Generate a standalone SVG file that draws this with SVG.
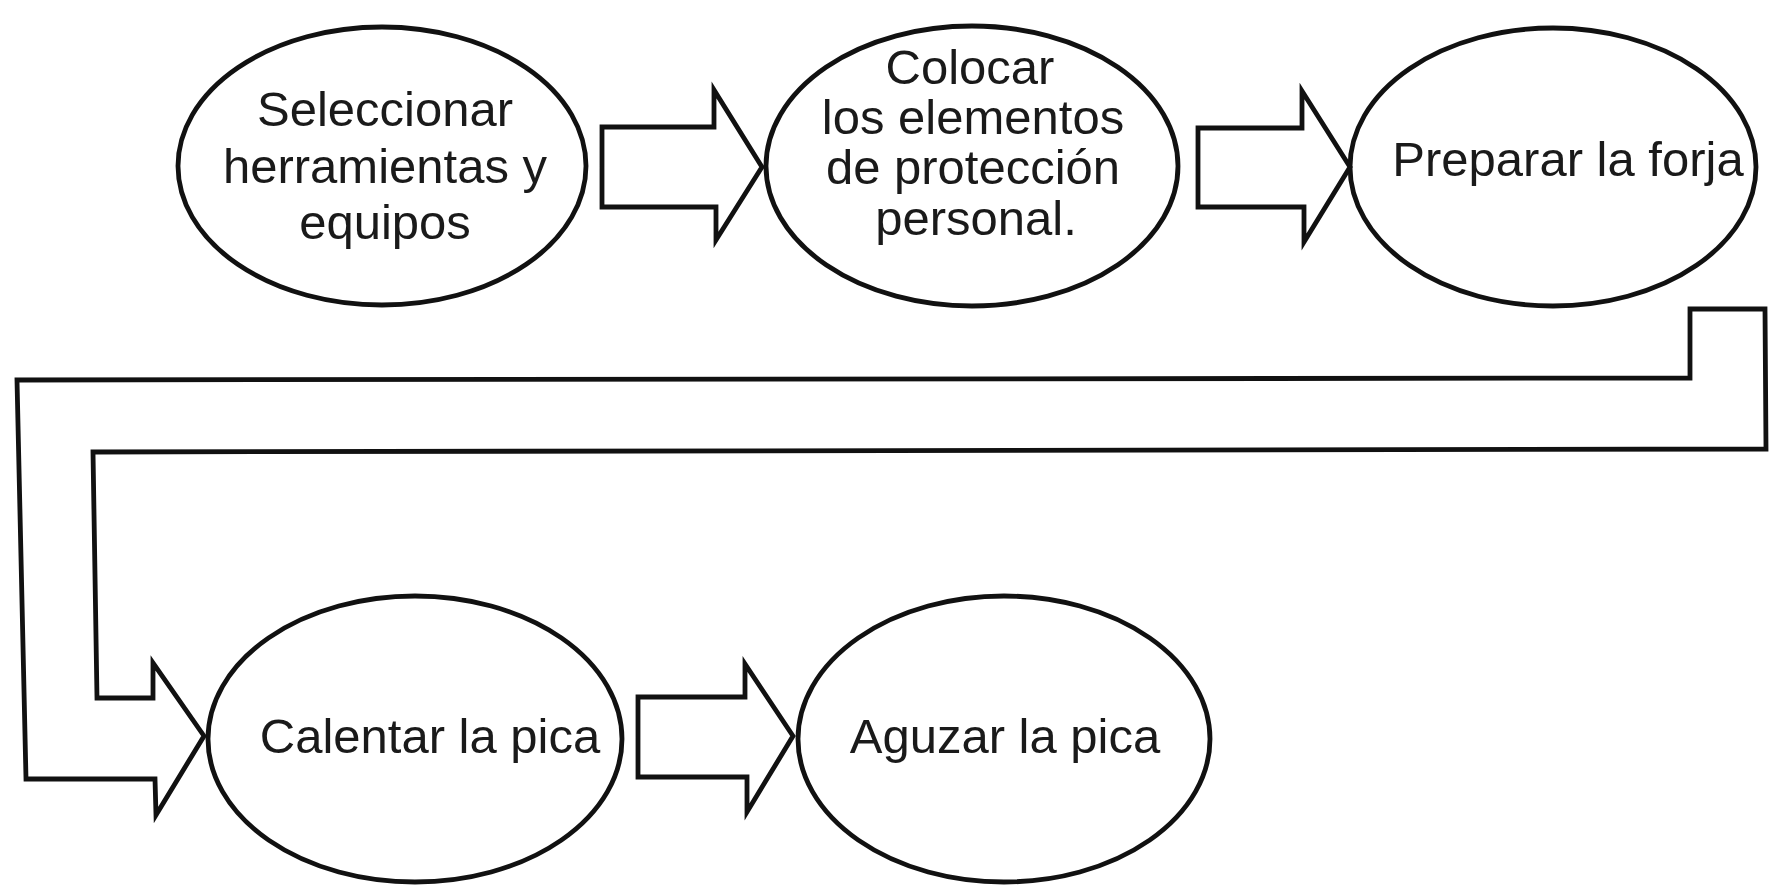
<svg xmlns="http://www.w3.org/2000/svg" width="1784" height="885" viewBox="0 0 1784 885">
<style>
.node ellipse{fill:none;stroke:#111;stroke-width:4.8}
.node text{font-family:"Liberation Sans",Arial,sans-serif;font-size:49px;fill:#1a1a1a;text-anchor:middle}
.conn path{fill:none;stroke:#111;stroke-width:4.8;stroke-linejoin:miter}
</style>
<rect width="1784" height="885" fill="#fff"/>
<g class="conn" id="connectors">
<path id="c1" d="M602,127 L714,127 L714,90 L762,167 L716,240 L716,207 L602,207 Z"/>
<path id="c2" d="M1198,128 L1302,128 L1302,91 L1350,167 L1304,242 L1304,207 L1198,207 Z"/>
<path id="c3" d="M1690,309 L1765,309 L1766,449 L93,452 L97,698 L153,698 L153,663 L204,736 L156,815 L155,779 L26,779 L17,380 L1690,378 Z"/>
<path id="c4" d="M638,697 L745,697 L745,664 L793,736 L747,812 L747,777 L638,777 Z"/>
</g>
<g class="node" id="n1">
<ellipse cx="382" cy="166" rx="204" ry="139"/>
<text x="385" y="126">Seleccionar</text>
<text x="385" y="183">herramientas y</text>
<text x="385" y="239">equipos</text>
</g>
<g class="node" id="n2">
<ellipse cx="972" cy="166" rx="206" ry="140"/>
<text x="970" y="84">Colocar</text>
<text x="973" y="134">los elementos</text>
<text x="973" y="184">de protección</text>
<text x="976" y="235">personal.</text>
</g>
<g class="node" id="n3">
<ellipse cx="1553" cy="167" rx="203" ry="139"/>
<text x="1568" y="176">Preparar la forja</text>
</g>
<g class="node" id="n4">
<ellipse cx="415" cy="739" rx="207" ry="143"/>
<text x="430" y="753">Calentar la pica</text>
</g>
<g class="node" id="n5">
<ellipse cx="1004" cy="739" rx="206" ry="143"/>
<text x="1005" y="753">Aguzar la pica</text>
</g>
</svg>
